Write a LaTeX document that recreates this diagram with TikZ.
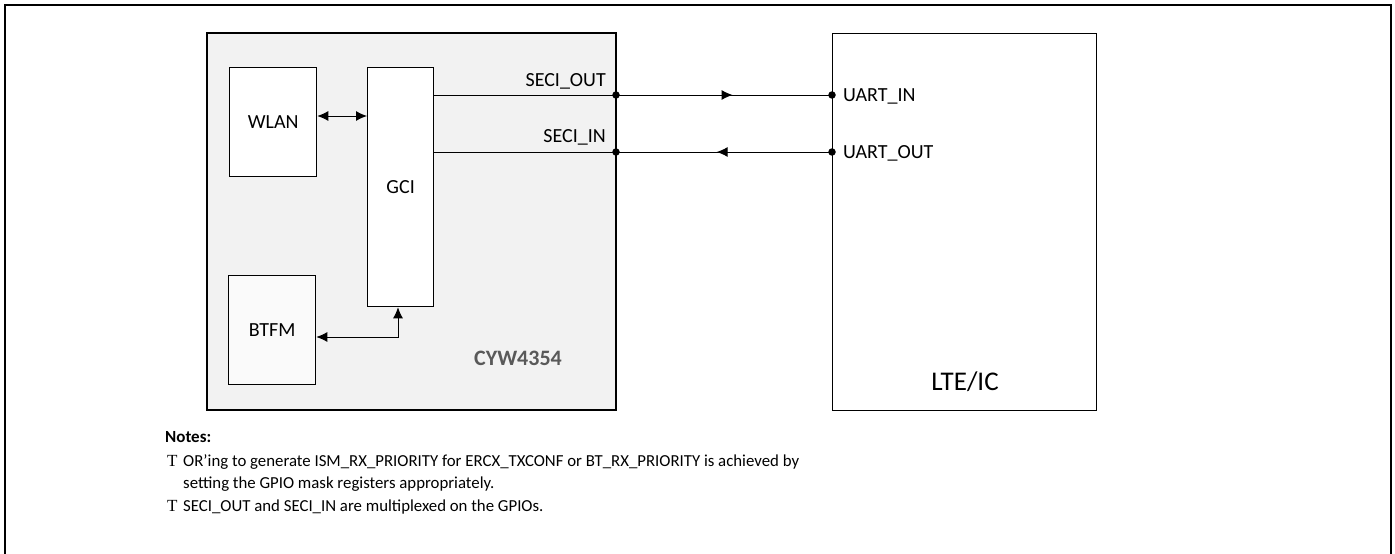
\documentclass[tikz,border=0pt]{standalone}
\usepackage{fontspec}
\setmainfont{Carlito}
\newfontfamily\bulletfont{Liberation Serif}
\usetikzlibrary{arrows.meta,decorations.markings}
\begin{document}
\begin{tikzpicture}[x=1pt,y=-1pt,
  blk/.style={draw=black,line width=1.3pt,fill=white},
  lbl/.style={font=\fontsize{20}{24}\selectfont,inner sep=0pt},
  wire/.style={line width=1pt},
  dot/.style={circle,fill=black,inner sep=0pt,minimum size=7.5pt},
  note/.style={font=\fontsize{16.8}{20}\selectfont,inner sep=0pt,anchor=base west},
  tipa/.tip={Latex[length=11pt,width=10pt]},
]
\useasboundingbox (0,0) rectangle (1395,554);
% outer frame (open at bottom)
\draw[line width=2.5pt] (5,560) -- (5,5) -- (1391,5) -- (1391,560);
% chip
\draw[draw=black,line width=1.3pt,fill=black!5] (207,33) rectangle (616,410);
\node[blk,minimum width=87pt,minimum height=109pt,anchor=north west] (wlan) at (229,67) {};
\node[lbl] at (wlan.center) {WLAN};
\node[blk,minimum width=66pt,minimum height=239pt,anchor=north west] (gci) at (367,67) {};
\node[lbl] at (gci.center) {GCI};
\node[blk,fill=black!2,minimum width=87pt,minimum height=109pt,anchor=north west] (btfm) at (228,275) {};
\node[lbl] at (btfm.center) {BTFM};
\node[lbl,font=\fontsize{22}{26}\selectfont\bfseries,text=black!65] (chip) at (518,358) {CYW4354};
% LTE
\node[blk,minimum width=264pt,minimum height=377pt,anchor=north west] (lte) at (832,33) {};
\node[lbl,font=\fontsize{27}{32}\selectfont] (ltel) at (965,382) {LTE/IC};
% pins
\coordinate (so) at (616,95);
\coordinate (si) at (616,152);
\coordinate (ui) at (832,95);
\coordinate (uo) at (832,152);
\coordinate (go) at (gci.east |- so);
\coordinate (gi) at (gci.east |- si);
\draw[wire,postaction={decorate},decoration={markings,mark=at position 0.75 with {\arrow{tipa}}}] (go) -- (ui);
\draw[wire,postaction={decorate},decoration={markings,mark=at position 0.29 with {\arrow{tipa}}}] (uo) -- (gi);
\node[dot] at (so) {};
\node[dot] at (si) {};
\node[dot] at (ui) {};
\node[dot] at (uo) {};
\node[lbl,anchor=base east] at (606,86) {SECI\_OUT};
\node[lbl,anchor=base east] at (606,142) {SECI\_IN};
\node[lbl,anchor=west] at (843,96) {UART\_IN};
\node[lbl,anchor=west] at (843,153) {UART\_OUT};
% internal arrows
\draw[wire,tipa-tipa] (wlan.east |- 0,116) -- (gci.west |- 0,116);
\coordinate (bc) at (398,337);
\draw[wire,tipa-tipa] (btfm.east |- bc) -- (bc) -- (gci.south -| bc);
% notes
\node[note,font=\fontsize{17}{20}\selectfont\bfseries] (notes) at (165,442) {Notes:};
\node[note,font=\fontsize{17}{20}\bulletfont] (b1) at (167,466) {T};
\node[note] (n1) at (183,466) {OR’ing to generate ISM\_RX\_PRIORITY for ERCX\_TXCONF or BT\_RX\_PRIORITY is achieved by};
\node[note] (n2) at (183,488) {setting the GPIO mask registers appropriately.};
\node[note,font=\fontsize{17}{20}\bulletfont] (b2) at (167,511) {T};
\node[note] (n3) at (183,511) {SECI\_OUT and SECI\_IN are multiplexed on the GPIOs.};
\end{tikzpicture}
\end{document}
